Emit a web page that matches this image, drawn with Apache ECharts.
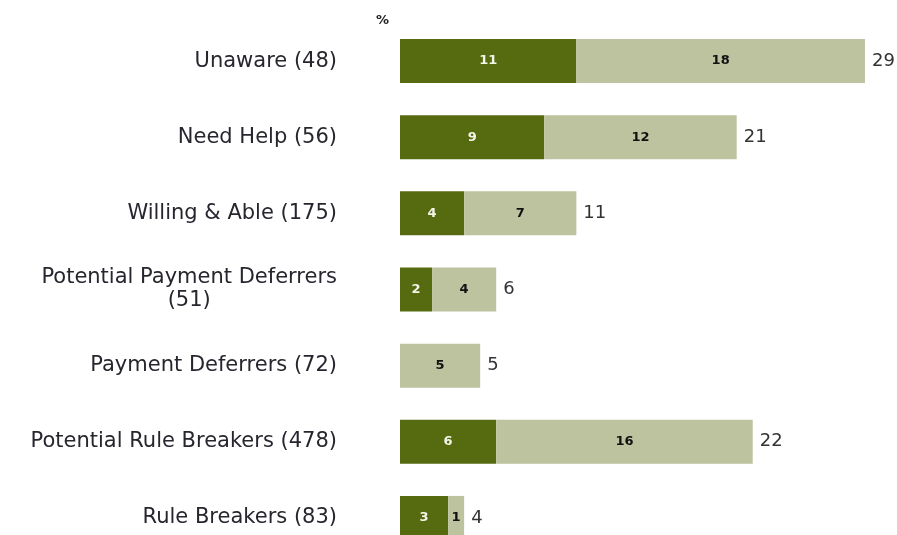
<!DOCTYPE html>
<html>
<head>
<meta charset="utf-8">
<script src="https://cdn.jsdelivr.net/npm/echarts@6/dist/echarts.min.js"></script>
<style>
  html, body { margin: 0; padding: 0; background: #ffffff; overflow: hidden; }
  #chart { width: 897px; height: 580px; }
</style>
</head>
<body>
<div id="chart"></div>
<script>
// Segments by group, in percent
const categories = [
  'Unaware (48)',
  'Need Help (56)',
  'Willing & Able (175)',
  'Potential Payment Deferrers\n(51)',
  'Payment Deferrers (72)',
  'Potential Rule Breakers (478)',
  'Rule Breakers (83)'
];
const darkValues = [11, 9, 4, 2, 0, 6, 3];
const lightValues = [18, 12, 7, 4, 5, 16, 1];
const totals = darkValues.map((v, i) => v + lightValues[i]);

const DARK = '#566b10';
const LIGHT = '#bdc39f';
const FONT = '"DejaVu Sans", Verdana, sans-serif';

const chart = echarts.init(document.getElementById('chart'));

chart.setOption({
  animation: false,
  backgroundColor: '#ffffff',
  title: {
    text: '%',
    left: 371,
    top: 9,
    textStyle: { fontFamily: FONT, fontSize: 13, fontWeight: 'bold', color: '#222' }
  },
  // the last row runs past the bottom edge of the page
  grid: { left: 400, top: 23, width: 481, height: 533 },
  xAxis: {
    type: 'value',
    min: 0,
    max: 30,
    show: false
  },
  yAxis: {
    type: 'category',
    inverse: true,
    data: categories,
    axisLine: { show: false },
    axisTick: { show: false },
    splitLine: { show: false },
    axisLabel: {
      margin: 63,
      align: 'right',
      // each line centred inside the right-aligned block
      formatter: v => v.split('\n').map(s => '{c|' + s + '}').join('\n'),
      rich: {
        c: {
          align: 'center',
          fontFamily: FONT,
          fontSize: 21,
          lineHeight: 23,
          color: '#26262e'
        }
      }
    }
  },
  series: [
    {
      type: 'bar',
      stack: 'seg',
      data: darkValues,
      barWidth: 44,
      itemStyle: { color: DARK },
      label: {
        show: true,
        position: 'inside',
        fontFamily: FONT,
        fontSize: 13,
        fontWeight: 'bold',
        color: '#f4f4e8',
        formatter: p => (p.value ? p.value : '')
      }
    },
    {
      type: 'bar',
      stack: 'seg',
      data: lightValues,
      barWidth: 44,
      itemStyle: { color: LIGHT },
      label: {
        show: true,
        position: 'inside',
        fontFamily: FONT,
        fontSize: 13,
        fontWeight: 'bold',
        color: '#111',
        formatter: p => (p.value ? p.value : '')
      }
    },
    {
      // invisible overlay carrying the total at the end of each bar
      type: 'bar',
      data: totals,
      barWidth: 44,
      barGap: '-100%',
      itemStyle: { color: 'rgba(0,0,0,0)' },
      silent: true,
      z: 1,
      label: {
        show: true,
        position: 'right',
        distance: 7,
        fontFamily: FONT,
        fontSize: 18,
        color: '#333'
      }
    }
  ]
});
</script>
</body>
</html>
